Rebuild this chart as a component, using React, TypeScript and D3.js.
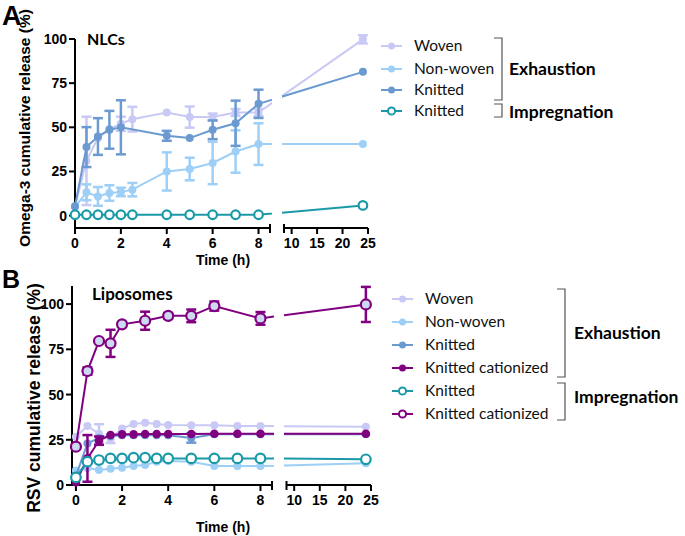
import React from "react";
import * as d3 from "d3";

// ---------- DATA ----------
const tA = [0, 0.5, 1, 1.5, 2, 2.5, 4, 5, 6, 7, 8, 24];
const wovenA = [5, 31, 44, 49, 52, 54.6, 58.4, 55.8, 55.8, 58.4, 58.4, 99.8];
const wovenAErr = [0, 25, 0, 0, 4, 7, 0, 6, 2, 2, 2, 2.3];
const nonWovenA = [5, 13.2, 10.9, 12.8, 13.4, 14.7, 25, 26.4, 29.8, 36.3, 40.5, 40.5];
const nonWovenAErr = [0, 4.5, 5.3, 4.4, 2.4, 3.8, 10.8, 6.4, 12, 12, 11.8, 0];
const tKnitA = [0, 0.5, 1, 1.5, 2, 4, 5, 6, 7, 8, 24];
const knittedA = [5.3, 38.8, 44.8, 48.6, 50, 45.2, 43.9, 48.6, 52.3, 63.3, 81.4];
const knittedAErr = [0, 11.3, 10.4, 10.7, 15.3, 2.8, 0, 5.3, 12.8, 8, 0];
const knittedImpA = [0.5, 0.5, 0.5, 0.5, 0.5, 0.5, 0.5, 0.5, 0.5, 0.5, 0.5, 5.8];

const tB = [0, 0.5, 1, 1.5, 2, 2.5, 3, 3.5, 4, 5, 6, 7, 8, 24];
const wovenB = [26.7, 32.6, 28.3, 25.5, 31.3, 33.7, 34.4, 33.7, 33.1, 33, 33, 32.6, 32.6, 32.2];
const wovenBErr = [0, 0, 5.3, 2.3, 0, 0, 0, 0, 0, 0, 0, 0, 0, 0];
const nonWovenB = [8, 9.4, 8.3, 9, 9.6, 10.5, 11, 12.9, 13.3, 12.9, 10.5, 10.5, 10.5, 12];
const knittedB = [5, 23, 26, 27, 27.5, 27.5, 27.5, 27.5, 27.5, 26, 28, 28, 28, 28];
const knittedBErr = [0, 0, 0, 0, 0, 0, 0, 0, 0, 2.6, 0, 0, 0, 0];
const catB = [1.5, 14.7, 24.5, 27.6, 28, 28, 28.2, 28.2, 28.2, 28.2, 28.3, 28.3, 28.3, 28.3];
const catBErr = [0, 12.9, 2.3, 0, 0, 0, 0, 0, 0, 0, 0, 0, 0, 0];
const knittedImpB = [4.2, 12.9, 13.8, 14.7, 14.7, 15.1, 15.1, 14.7, 14.7, 14.7, 14.7, 14.7, 14.7, 14.2];
const tCatImp = [0, 0.5, 1, 1.5, 2, 3, 4, 5, 6, 8, 24];
const catImpB = [21.2, 63, 79.6, 78.3, 88.8, 90.8, 93.5, 93.5, 98.9, 92.1, 99.8];
const catImpBErr = [0, 2, 0, 7.5, 0, 5, 1.5, 3.5, 2.5, 3.5, 9.7];

const yTicksA = [0, 25, 50, 75, 100];
const yTicksB = [0, 25, 50, 75, 100];
const xTicks1 = [0, 2, 4, 6, 8];
const xTicks2 = [10, 15, 20, 25];

const legendA = ["Woven", "Non-woven", "Knitted", "Knitted"];
const legendB = ["Woven", "Non-woven", "Knitted", "Knitted cationized", "Knitted", "Knitted cationized"];

// ---------- STYLE ----------
const C = {
  woven: "#c9c9f5",
  nonwoven: "#9dcff7",
  knitted: "#6a9ad0",
  teal: "#1a9aa8",
  purple: "#800080",
};
const ARIAL = "'Liberation Sans', Arial, sans-serif";
const CAL = "Lato, 'Open Sans', sans-serif";

type Series = {
  t: number[];
  v: number[];
  err?: number[];
  color: string;
  open?: boolean;
  fill?: string;
  r: number;
};

type PanelCfg = {
  id: string;
  x1d: [number, number];
  x1r: [number, number];
  x2d: [number, number];
  x2r: [number, number];
  yd: [number, number];
  yr: [number, number];
  axisY: number;
  axisX: number;
  gap: [number, number];
  yTicks: number[];
  series: Series[];
};

function Panel({ cfg }: { cfg: PanelCfg }) {
  const x1 = d3.scaleLinear().domain(cfg.x1d).range(cfg.x1r);
  const x2 = d3.scaleLinear().domain(cfg.x2d).range(cfg.x2r);
  const y = d3.scaleLinear().domain(cfg.yd).range(cfg.yr);
  const fx = (t: number) => (t <= cfg.x1d[1] ? x1(t) : x2(t));
  const line = d3
    .line<[number, number]>()
    .x((d) => fx(d[0]))
    .y((d) => y(d[1]));
  const top = 0;
  const bot = 536;
  return (
    <g>
      <defs>
        <clipPath id={cfg.id + "c1"}>
          <rect x={0} y={top} width={cfg.gap[0]} height={bot} />
        </clipPath>
        <clipPath id={cfg.id + "c2"}>
          <rect x={cfg.gap[1]} y={top} width={685 - cfg.gap[1]} height={bot} />
        </clipPath>
      </defs>
      {/* axes */}
      <line x1={cfg.axisX} x2={cfg.axisX} y1={cfg.axisY} y2={y(cfg.yd[1])} stroke="#000" strokeWidth={2} />
      {cfg.yTicks.map((v) => (
        <g key={"yt" + v}>
          <line x1={cfg.axisX - 6} x2={cfg.axisX} y1={y(v)} y2={y(v)} stroke="#000" strokeWidth={2} />
          <text x={cfg.axisX - 8} y={y(v) + 5} textAnchor="end" fontFamily={ARIAL} fontWeight="bold" fontSize={14}>
            {v}
          </text>
        </g>
      ))}
      <line x1={cfg.x1r[0] - 1} x2={cfg.x1r[1]} y1={cfg.axisY} y2={cfg.axisY} stroke="#000" strokeWidth={2} />
      <line x1={cfg.x1r[1]} x2={cfg.x1r[1]} y1={cfg.axisY - 4} y2={cfg.axisY + 5} stroke="#000" strokeWidth={2} />
      <line x1={cfg.x2r[0]} x2={cfg.x2r[1]} y1={cfg.axisY} y2={cfg.axisY} stroke="#000" strokeWidth={2} />
      <line x1={cfg.x2r[0]} x2={cfg.x2r[0]} y1={cfg.axisY - 4} y2={cfg.axisY + 5} stroke="#000" strokeWidth={2} />
      {xTicks1.map((v) => (
        <g key={"xa" + v}>
          <line x1={x1(v)} x2={x1(v)} y1={cfg.axisY} y2={cfg.axisY + 6} stroke="#000" strokeWidth={2} />
          <text x={x1(v)} y={cfg.axisY + 20} textAnchor="middle" fontFamily={ARIAL} fontWeight="bold" fontSize={14}>
            {v}
          </text>
        </g>
      ))}
      {xTicks2.map((v) => (
        <g key={"xb" + v}>
          <line x1={x2(v)} x2={x2(v)} y1={cfg.axisY} y2={cfg.axisY + 6} stroke="#000" strokeWidth={2} />
          <text x={x2(v)} y={cfg.axisY + 20} textAnchor="middle" fontFamily={ARIAL} fontWeight="bold" fontSize={14}>
            {v}
          </text>
        </g>
      ))}
      {/* series */}
      {cfg.series.map((s, i) => {
        const pts = s.t.map((t, j) => [t, s.v[j]] as [number, number]);
        const d = line(pts) || "";
        return (
          <g key={"s" + i}>
            <path d={d} fill="none" stroke={s.color} strokeWidth={2} clipPath={`url(#${cfg.id}c1)`} />
            <path d={d} fill="none" stroke={s.color} strokeWidth={2} clipPath={`url(#${cfg.id}c2)`} />
            {s.err &&
              s.t.map((t, j) => {
                const e = s.err![j];
                if (!e) return null;
                const cx = fx(t);
                return (
                  <g key={"e" + j} stroke={s.color} strokeWidth={2.5}>
                    <line x1={cx} x2={cx} y1={y(s.v[j] - e)} y2={y(s.v[j] + e)} />
                    <line x1={cx - 5} x2={cx + 5} y1={y(s.v[j] - e)} y2={y(s.v[j] - e)} />
                    <line x1={cx - 5} x2={cx + 5} y1={y(s.v[j] + e)} y2={y(s.v[j] + e)} />
                  </g>
                );
              })}
            {s.t.map((t, j) => (
              <circle
                key={"p" + j}
                cx={fx(t)}
                cy={y(s.v[j])}
                r={s.r}
                fill={s.open ? s.fill || "#fff" : s.color}
                stroke={s.open ? s.color : "none"}
                strokeWidth={s.open ? 2.2 : 0}
              />
            ))}
          </g>
        );
      })}
    </g>
  );
}

function LegendItem({ x, y, color, open, label }: { x: number; y: number; color: string; open?: boolean; label: string }) {
  return (
    <g>
      <line x1={x} x2={x + 21} y1={y} y2={y} stroke={color} strokeWidth={2} />
      <circle cx={x + 10.5} cy={y} r={open ? 3.6 : 3.5} fill={open ? "#fff" : color} stroke={open ? color : "none"} strokeWidth={open ? 2 : 0} />
      <text x={x + 33} y={y + 5} fontFamily={CAL} fontSize={15.5} fill="#111">
        {label}
      </text>
    </g>
  );
}

function Bracket({ x, y1, y2 }: { x: number; y1: number; y2: number }) {
  return (
    <path d={`M${x - 8},${y1} H${x} V${y2} H${x - 8}`} fill="none" stroke="#555" strokeWidth={1.2} />
  );
}

export default function App() {
  const panelA: PanelCfg = {
    id: "pa",
    x1d: [0, 8.5],
    x1r: [75, 270],
    x2d: [8.5, 25],
    x2r: [284, 368],
    yd: [-7, 100],
    yr: [228, 39],
    axisY: 228,
    axisX: 75,
    gap: [272, 282],
    yTicks: yTicksA,
    series: [
      { t: tA, v: wovenA, err: wovenAErr, color: C.woven, r: 4 },
      { t: tA, v: nonWovenA, err: nonWovenAErr, color: C.nonwoven, r: 4 },
      { t: tKnitA, v: knittedA, err: knittedAErr, color: C.knitted, r: 4 },
      { t: tA, v: knittedImpA, color: C.teal, open: true, r: 4.3 },
    ],
  };
  const panelB: PanelCfg = {
    id: "pb",
    x1d: [-0.17, 8.5],
    x1r: [72, 272],
    x2d: [8.5, 25],
    x2r: [286.5, 371],
    yd: [0, 110],
    yr: [485, 286],
    axisY: 485,
    axisX: 72,
    gap: [274, 284],
    yTicks: yTicksB,
    series: [
      { t: tB, v: wovenB, err: wovenBErr, color: C.woven, r: 4 },
      { t: tB, v: nonWovenB, color: C.nonwoven, r: 4 },
      { t: tB, v: knittedB, err: knittedBErr, color: C.knitted, r: 4 },
      { t: tB, v: catB, err: catBErr, color: C.purple, r: 4.3 },
      { t: tB, v: knittedImpB, color: C.teal, open: true, r: 4.8 },
      { t: tCatImp, v: catImpB, err: catImpBErr, color: C.purple, open: true, fill: "#ccd9f0", r: 5 },
    ],
  };
  const legAColors = [C.woven, C.nonwoven, C.knitted, C.teal];
  const legAY = [46, 69, 90, 111];
  const legBColors = [C.woven, C.nonwoven, C.knitted, C.purple, C.teal, C.purple];
  const legBY = [299, 322, 345, 368, 391, 414];
  return (
    <svg width={685} height={536} style={{ position: "absolute", left: 0, top: 0, background: "#fff" }}>
      <rect width={685} height={536} fill="#fff" />
      <text x={2} y={25} fontFamily={ARIAL} fontWeight="bold" fontSize={27}>A</text>
      <text x={2} y={288} fontFamily={ARIAL} fontWeight="bold" fontSize={25}>B</text>
      <text transform="translate(30,128) rotate(-90)" textAnchor="middle" fontFamily={ARIAL} fontWeight="bold" fontSize={15.5}>
        Omega-3 cumulative release (%)
      </text>
      <text transform="translate(40,398) rotate(-90)" textAnchor="middle" fontFamily={ARIAL} fontWeight="bold" fontSize={17.5}>
        RSV cumulative release (%)
      </text>
      <text x={87} y={45} fontFamily={CAL} fontWeight="bold" fontSize={16}>NLCs</text>
      <text x={92} y={300} fontFamily={CAL} fontWeight="bold" fontSize={17}>Liposomes</text>
      <text x={223} y={265} textAnchor="middle" fontFamily={ARIAL} fontWeight="bold" fontSize={14}>Time (h)</text>
      <text x={223} y={532} textAnchor="middle" fontFamily={ARIAL} fontWeight="bold" fontSize={14}>Time (h)</text>
      <Panel cfg={panelA} />
      <Panel cfg={panelB} />
      {legendA.map((l, i) => (
        <LegendItem key={"la" + i} x={381} y={legAY[i]} color={legAColors[i]} open={i === 3} label={l} />
      ))}
      <Bracket x={502} y1={38} y2={100} />
      <Bracket x={502} y1={104} y2={117} />
      <text x={509} y={75} fontFamily={CAL} fontWeight="bold" fontSize={17.5}>Exhaustion</text>
      <text x={509} y={118} fontFamily={CAL} fontWeight="bold" fontSize={17.5}>Impregnation</text>
      {legendB.map((l, i) => (
        <LegendItem key={"lb" + i} x={392} y={legBY[i]} color={legBColors[i]} open={i >= 4} label={l} />
      ))}
      <Bracket x={565} y1={289} y2={377} />
      <Bracket x={565} y1={383} y2={420} />
      <text x={574} y={339} fontFamily={CAL} fontWeight="bold" fontSize={17.5}>Exhaustion</text>
      <text x={574} y={403} fontFamily={CAL} fontWeight="bold" fontSize={17.5}>Impregnation</text>
    </svg>
  );
}
